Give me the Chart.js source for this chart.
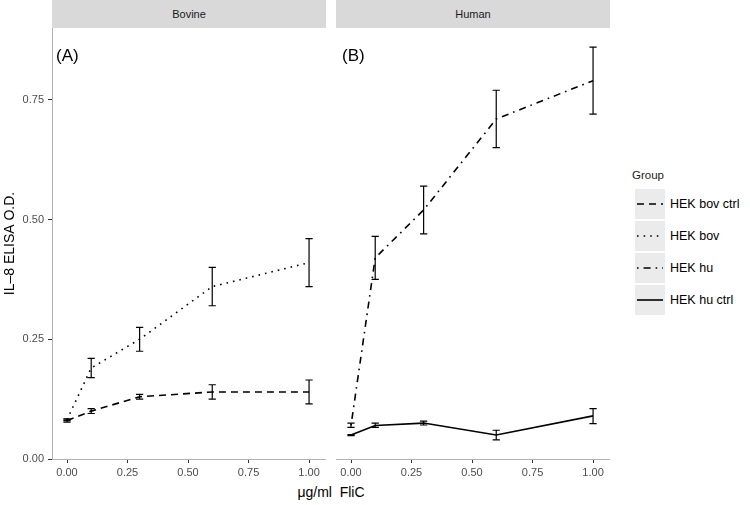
<!DOCTYPE html>
<html>
<head>
<meta charset="utf-8">
<script src="https://cdn.jsdelivr.net/npm/chart.js@4"></script>
<style>
  html, body { margin: 0; padding: 0; background: #fff; }
  body { width: 750px; height: 505px; position: relative; overflow: hidden; font-family: "Liberation Sans", Arial, sans-serif; }
  .abs { position: absolute; }
  .strip { position: absolute; top: 0; height: 28px; background: #d9d9d9; color: #1a1a1a; font-size: 11px; line-height: 28px; text-align: center; }
  .panel-lab { position: absolute; font-size: 17px; color: #000; line-height: 1; }
  .key { position: absolute; left: 635px; width: 30px; height: 30px; background: #ebebeb; }
  .key svg { display: block; }
  .klab { position: absolute; left: 670px; font-size: 12.5px; color: #000; line-height: 1; transform: translateY(-50%); }
</style>
</head>
<body>
<div class="strip" style="left:52px;width:274px;">Bovine</div>
<div class="strip" style="left:336px;width:274px;">Human</div>

<div class="abs" style="left:0;top:28px;width:326px;height:452px;"><canvas id="c1" width="326" height="452"></canvas></div>
<div class="abs" style="left:336px;top:28px;width:274px;height:452px;"><canvas id="c2" width="274" height="452"></canvas></div>

<div class="panel-lab" style="left:56px;top:47px;">(A)</div>
<div class="panel-lab" style="left:342px;top:47px;">(B)</div>

<div class="abs" style="left:0;width:662px;top:484px;text-align:center;font-size:14px;color:#000;line-height:16px;">μg/ml&nbsp;&nbsp;FliC</div>

<div class="abs" style="left:632px;top:170px;font-size:11.5px;color:#1a1a1a;line-height:1;">Group</div>
<div id="legend"></div>

<script>
// ---- data ----
const doses = [0, 0.1, 0.3, 0.6, 1.0];
const xTicks = [0, 0.25, 0.5, 0.75, 1.0];
const yTicks = [0, 0.25, 0.5, 0.75];
const panels = ["Bovine", "Human"];
const groups = ["HEK bov ctrl", "HEK bov", "HEK hu", "HEK hu ctrl"];

const bovCtrl   = [0.080, 0.100, 0.130, 0.140, 0.140];
const bovCtrlLo = [0.077, 0.095, 0.125, 0.125, 0.115];
const bovCtrlHi = [0.083, 0.105, 0.135, 0.155, 0.165];

const bov   = [0.082, 0.190, 0.250, 0.360, 0.410];
const bovLo = [0.080, 0.170, 0.225, 0.320, 0.360];
const bovHi = [0.084, 0.210, 0.275, 0.400, 0.460];

const hu   = [0.070, 0.420, 0.520, 0.710, 0.790];
const huLo = [0.066, 0.375, 0.470, 0.650, 0.720];
const huHi = [0.075, 0.465, 0.570, 0.770, 0.860];

const huCtrl   = [0.050, 0.070, 0.075, 0.050, 0.090];
const huCtrlLo = [0.049, 0.066, 0.071, 0.040, 0.074];
const huCtrlHi = [0.051, 0.075, 0.079, 0.060, 0.105];

// ---- styles ----
const dashes = {
  "HEK bov ctrl": [7, 5],
  "HEK bov": [1.6, 5],
  "HEK hu": [1.6, 5, 7, 5],
  "HEK hu ctrl": []
};

function ds(label, vals, lo, hi) {
  return {
    label: label,
    data: doses.map((d, i) => ({ x: d, y: vals[i] })),
    errLo: lo, errHi: hi,
    borderColor: "#000", backgroundColor: "#000",
    borderWidth: 1.6, pointRadius: 0, tension: 0,
    borderDash: dashes[label], borderCapStyle: "butt", fill: false
  };
}

const errorBars = {
  id: "errorBars",
  afterDatasetsDraw(chart) {
    const ctx = chart.ctx;
    ctx.save();
    ctx.strokeStyle = "#000";
    ctx.lineWidth = 1.2;
    ctx.setLineDash([]);
    chart.data.datasets.forEach((d, di) => {
      const meta = chart.getDatasetMeta(di);
      const xs = meta.xScale, ys = meta.yScale;
      d.data.forEach((p, i) => {
        const x = xs.getPixelForValue(p.x);
        const xl = xs.getPixelForValue(p.x - 0.015);
        const xr = xs.getPixelForValue(p.x + 0.015);
        const yl = ys.getPixelForValue(d.errLo[i]);
        const yh = ys.getPixelForValue(d.errHi[i]);
        ctx.beginPath();
        ctx.moveTo(x, yl); ctx.lineTo(x, yh);
        ctx.moveTo(xl, yl); ctx.lineTo(xr, yl);
        ctx.moveTo(xl, yh); ctx.lineTo(xr, yh);
        ctx.stroke();
      });
    });
    ctx.restore();
  }
};

const tickFont = { family: "Liberation Sans", size: 11 };

function makeOptions(showY) {
  return {
    responsive: false, animation: false,
    layout: { padding: 0 },
    plugins: { legend: { display: false }, tooltip: { enabled: false } },
    scales: {
      x: {
        type: "linear", min: -0.062, max: 1.07,
        afterBuildTicks: s => { s.ticks = xTicks.map(v => ({ value: v })); },
        ticks: { callback: v => Number(v).toFixed(2), font: tickFont, color: "#4d4d4d", padding: 3, maxRotation: 0, autoSkip: false },
        grid: { drawOnChartArea: false, drawTicks: true, tickLength: 4, color: "#333" },
        border: { color: "#b3b3b3", width: 1 },
        afterFit: s => { s.height = 21; s.paddingLeft = 0; s.paddingRight = 0; }
      },
      y: {
        display: showY, min: 0, max: 0.9,
        afterBuildTicks: s => { s.ticks = yTicks.map(v => ({ value: v })); },
        ticks: { callback: v => Number(v).toFixed(2), font: tickFont, color: "#4d4d4d", padding: 4, autoSkip: false },
        grid: { drawOnChartArea: false, drawTicks: true, tickLength: 4, color: "#333" },
        border: { color: "#b3b3b3", width: 1 },
        title: { display: showY, text: "IL\u20138 ELISA O.D.", font: { family: "Liberation Sans", size: 14 }, color: "#000", padding: 2 },
        afterFit: s => { if (showY) s.width = 52; s.paddingTop = 0; s.paddingBottom = 0; }
      }
    }
  };
}

new Chart(document.getElementById("c1"), {
  type: "line",
  data: { datasets: [ds(groups[0], bovCtrl, bovCtrlLo, bovCtrlHi), ds(groups[1], bov, bovLo, bovHi)] },
  options: makeOptions(true),
  plugins: [errorBars]
});

new Chart(document.getElementById("c2"), {
  type: "line",
  data: { datasets: [ds(groups[2], hu, huLo, huHi), ds(groups[3], huCtrl, huCtrlLo, huCtrlHi)] },
  options: makeOptions(false),
  plugins: [errorBars]
});

// legend
const leg = document.getElementById("legend");
groups.forEach((g, i) => {
  const top = 189 + i * 32;
  const k = document.createElement("div");
  k.className = "key";
  k.style.top = top + "px";
  const dash = dashes[g].length ? dashes[g].join(" ") : "none";
  k.innerHTML = '<svg width="30" height="30"><line x1="2" y1="15" x2="28" y2="15" stroke="#000" stroke-width="1.6" stroke-dasharray="' + dash + '"/></svg>';
  leg.appendChild(k);
  const l = document.createElement("div");
  l.className = "klab";
  l.style.top = (top + 15) + "px";
  l.textContent = g;
  leg.appendChild(l);
});
</script>
</body>
</html>
